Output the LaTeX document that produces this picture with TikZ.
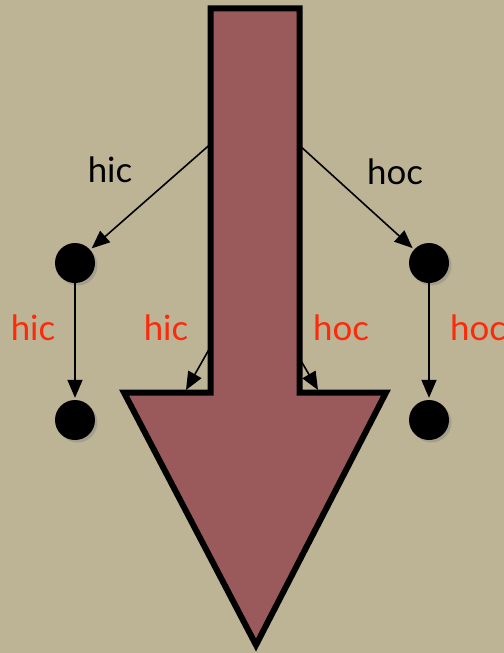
\documentclass[tikz,border=0pt]{standalone}
\usepackage{fontspec}
\setmainfont{Lato}
\usetikzlibrary{arrows.meta,shadows}
\definecolor{bg}{RGB}{189,180,149}
\definecolor{maroon}{RGB}{154,90,92}
\definecolor{lblred}{RGB}{250,42,10}
\begin{document}
\begin{tikzpicture}[x=1bp,y=-1bp,
  dot/.style={circle,fill=black,minimum size=40bp,inner sep=0pt,
    drop shadow={shadow xshift=2.5bp,shadow yshift=-2.5bp,opacity=0.4}},
  conn/.style={line width=1.6bp,-{Triangle[length=18bp,width=15bp]},shorten >=2bp},
  lbl/.style={font=\fontsize{35}{42}\selectfont,inner sep=0pt},
  redlbl/.style={lbl,text=lblred},
  bigarrow/.style={line width=6bp,fill=maroon,draw=black,line join=miter,miter limit=12}]
\fill[bg] (0,0) rectangle (504,653);
\clip (0,0) rectangle (504,653);
% dots
\node[dot] (L1) at (75,263) {};
\node[dot] (L2) at (75,420) {};
\node[dot] (R1) at (429,263) {};
\node[dot] (R2) at (429,420) {};
\coordinate (root) at (255,105);
\coordinate (ml) at (258,263);
\coordinate (mlt) at (186,390);
\coordinate (mr) at (244,263);
\coordinate (mrt) at (318,390);
% connectors
\draw[conn] (root) -- (L1);
\draw[conn] (root) -- (R1);
\draw[conn] (L1) -- (L2);
\draw[conn] (R1) -- (R2);
\draw[conn,shorten >=0pt] (ml) -- (mlt);
\draw[conn,shorten >=0pt] (mr) -- (mrt);
% labels
\node[lbl] (t1) at (110,170) {hic};
\node[lbl] (t2) at (395,172) {hoc};
\node[redlbl] (r1) at (33,328) {hic};
\node[redlbl] (r2) at (166,328) {hic};
\node[redlbl] (r3) at (341,328) {hoc};
\node[redlbl] (r4) at (478,328) {hoc};
% big arrow
\draw[bigarrow] (210.5,8.5) -- (299.5,8.5) -- (299.5,392.5) -- (386,392.5)
  -- (256,645) -- (124,392.5) -- (210.5,392.5) -- cycle;
\end{tikzpicture}
\end{document}
